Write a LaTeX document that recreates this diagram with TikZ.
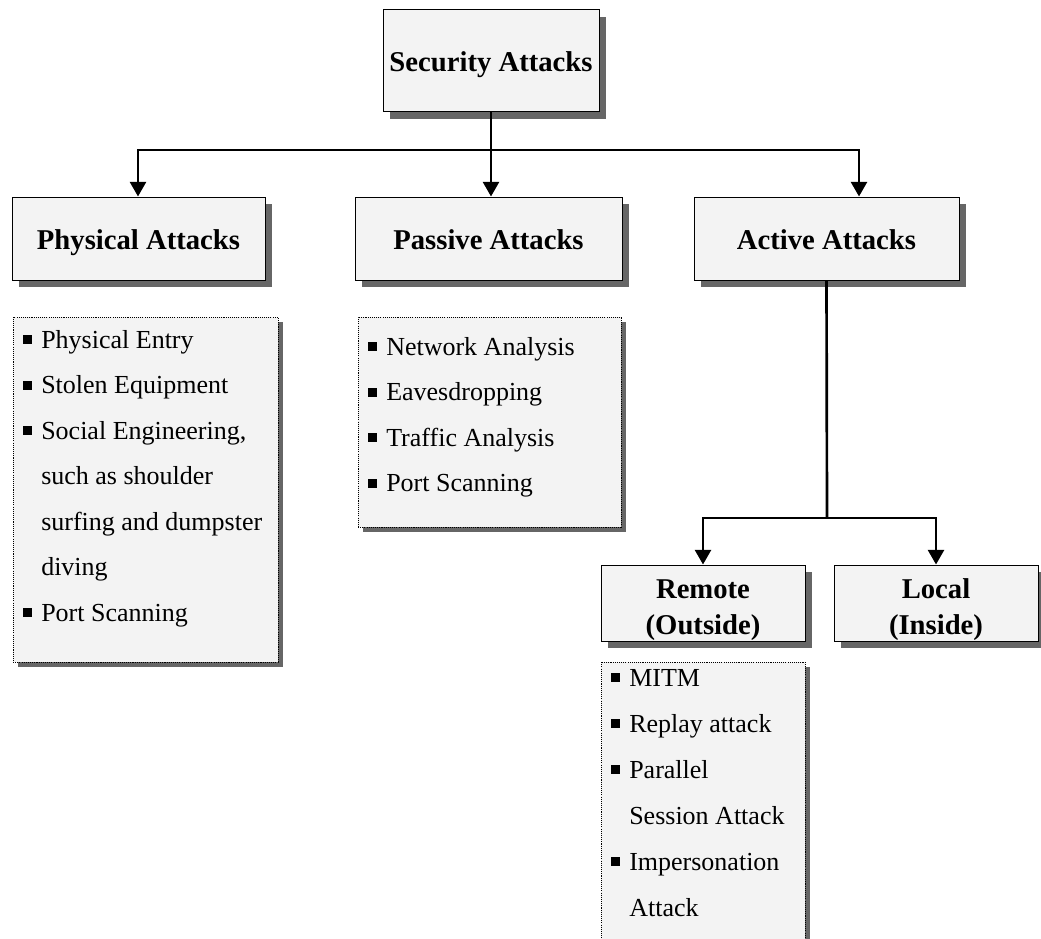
\documentclass[tikz,border=0pt]{standalone}
\usepackage{fontspec}
\setmainfont{Liberation Serif}
\usetikzlibrary{shadows,arrows.meta,calc}
\definecolor{boxgray}{HTML}{F3F3F3}
\definecolor{shadegray}{HTML}{666666}
% small filled square used as list bullet
\newcommand\sqb{\llap{\rule[0.15em]{0.35em}{0.35em}\hspace{0.36em}}}
\begin{document}
\begin{tikzpicture}[x=0.75pt,y=-0.75pt,
  boxshadow/.style={drop shadow={shadow xshift=5.25pt,shadow yshift=-5.25pt,fill=shadegray,opacity=1}},
  listshadow/.style={drop shadow={shadow xshift=4pt,shadow yshift=-4pt,fill=shadegray,opacity=1}},
  titlefont/.style={font=\bfseries\fontsize{21.5}{24}\selectfont},
  titlebox/.style={draw=black,line width=0.75pt,fill=boxgray,boxshadow,inner sep=0pt,
    titlefont,text height=16.5pt,text depth=0pt},
  titleline/.style={anchor=base,inner sep=0pt,titlefont},
  listbox/.style={draw=black,line width=0.6pt,dash pattern=on 0.8pt off 0.8pt,
    fill=boxgray,listshadow,inner sep=0pt},
  listline/.style={anchor=base west,inner sep=0pt,font=\fontsize{19.5}{22}\selectfont},
  conn/.style={line width=2pt,line join=miter},
  arr/.style={conn,-{Triangle[width=12pt,length=11pt]}},
]
\useasboundingbox (0,0) rectangle (1041,938);
\clip (0,0) rectangle (1041,938);

% top level
\node[titlebox,minimum width=162pt,minimum height=76.5pt] (sec) at (491,61) {Security Attacks};

% second level
\node[titlebox,minimum width=189.75pt,minimum height=62.25pt] (phys) at (138.5,238.5) {Physical Attacks};
\node[titlebox,minimum width=200.25pt,minimum height=62.25pt] (pas) at (488.5,238.5) {Passive Attacks};
\node[titlebox,minimum width=198.75pt,minimum height=62.25pt] (act) at (826.5,238.5) {Active Attacks};

% lists under the second level
\node[listbox,minimum width=198.75pt,minimum height=258.75pt] (physlist) at (145.5,489.5) {};
\node[listbox,minimum width=197.25pt,minimum height=157.5pt] (paslist) at (489.5,422) {};

\foreach[count=\i] \t in {{\sqb Physical Entry},{\sqb Stolen Equipment},{\sqb Social Engineering,},
    {such as shoulder},{surfing and dumpster},{diving},{\sqb Port Scanning}}
  \node[listline] (physitem-\i) at (41,{348+45.5*(\i-1)}) {\t};

\foreach[count=\i] \t in {{\sqb Network Analysis},{\sqb Eavesdropping},{\sqb Traffic Analysis},{\sqb Port Scanning}}
  \node[listline] (pasitem-\i) at (386,{355+45.5*(\i-1)}) {\t};

% third level under active attacks
\node[titlebox,minimum width=153pt,minimum height=57pt] (rem) at (703,603) {};
\node[titlebox,minimum width=153pt,minimum height=57pt] (loc) at (936,603) {};
\node[titleline] (rem-a) at (rem.center |- 0,598) {Remote};
\node[titleline] (rem-b) at (rem.center |- 0,634) {(Outside)};
\node[titleline] (loc-a) at (loc.center |- 0,598) {Local};
\node[titleline] (loc-b) at (loc.center |- 0,634) {(Inside)};

\node[listbox,minimum width=153pt,minimum height=223.5pt] (remlist) at (703,811) {};
\foreach[count=\i] \t in {{\sqb MITM},{\sqb Replay attack},{\sqb Parallel},{Session Attack},
    {\sqb Impersonation},{Attack}}
  \node[listline] (remitem-\i) at (629,{686+46*(\i-1)}) {\t};

% connectors
\coordinate (busm) at (491,150);
\coordinate (busl) at (138,150);
\coordinate (busr) at (859,150);
\draw[arr] (sec.south) -- (busm) -- (busm |- pas.north);
\draw[arr] (busm) -- (busl) -- (busl |- phys.north);
\draw[arr] (busm) -- (busr) -- (busr |- act.north);

\coordinate (abus) at (827,518);
\coordinate (abusl) at (703,518);
\coordinate (abusr) at (936,518);
\draw[conn] (act.south) -- (abus);
\draw[arr] (abus) -- (abusl) -- (abusl |- rem.north);
\draw[arr] (abus) -- (abusr) -- (abusr |- loc.north);
\end{tikzpicture}
\end{document}
